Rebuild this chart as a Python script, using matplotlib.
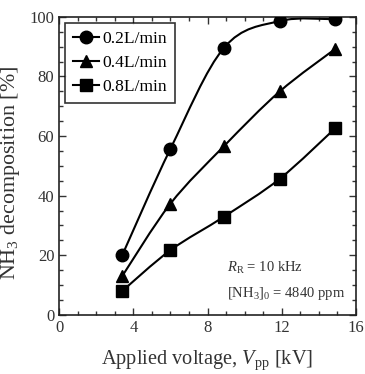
import numpy as np
import matplotlib
matplotlib.use("Agg")
import matplotlib.pyplot as plt
from matplotlib.path import Path
from matplotlib.patches import PathPatch

plt.rcParams['font.family'] = ['Liberation Serif', 'DejaVu Serif']
plt.rcParams['mathtext.fontset'] = 'custom'
plt.rcParams['mathtext.rm'] = 'Liberation Serif'
plt.rcParams['mathtext.it'] = 'Liberation Serif:italic'

voltage = [3.4, 6.0, 8.9, 11.9, 14.9]
flow_02 = [20.0, 55.7, 89.7, 98.6, 99.2]
flow_04 = [13.0, 37.3, 56.7, 75.0, 89.3]
flow_08 = [8.0, 21.7, 33.0, 45.7, 62.7]
labels = ['0.2L/min', '0.4L/min', '0.8L/min']
markers = ['o', '^', 's']

fig = plt.figure(figsize=(3.65, 3.74), dpi=100)
ax = fig.add_axes([0.162, 0.158, 0.813, 0.797])


def smooth_path(ax, x, y, **kw):
    # Catmull-Rom -> cubic Bezier, drawn in data coordinates
    x = np.asarray(x, float); y = np.asarray(y, float)
    pts = np.column_stack([x, y])
    verts = [pts[0]]; codes = [Path.MOVETO]
    n = len(pts)
    for i in range(n - 1):
        p0 = pts[i - 1] if i > 0 else pts[i]
        p1 = pts[i]; p2 = pts[i + 1]
        p3 = pts[i + 2] if i + 2 < n else pts[i + 1]
        c1 = p1 + (p2 - p0) / 6.0
        c2 = p2 - (p3 - p1) / 6.0
        verts += [c1, c2, p2]; codes += [Path.CURVE4] * 3
    ax.add_patch(PathPatch(Path(verts, codes), fill=False, **kw))


for ys, m, lab in zip([flow_02, flow_04, flow_08], markers, labels):
    smooth_path(ax, voltage, ys, lw=1.5, edgecolor='black', zorder=2)
    ms = 9 if m == 'o' else (8 if m == '^' else 8.5)
    ax.plot(voltage, ys, linestyle='none', marker=m, color='black', ms=ms, zorder=3)
    ax.plot([], [], '-', marker=m, color='black', ms=ms, lw=1.5, label=lab)

ax.set_xlim(0, 16)
ax.set_ylim(0, 100)
ax.set_xticks([0, 4, 8, 12, 16])
ax.set_yticks([0, 20, 40, 60, 80, 100])
ax.set_xticks(np.arange(0, 17, 1), minor=True)
ax.set_yticks(np.arange(0, 101, 5), minor=True)
ax.tick_params(which='both', direction='in', top=True, right=True, labelsize=12, colors='#333333', labelcolor='#333333')
ax.tick_params(which='major', length=5, width=1)
ax.tick_params(which='minor', length=3, width=1)
for s in ax.spines.values():
    s.set_linewidth(1.2)
    s.set_color('#222222')

ax.set_xlabel('Applied voltage, $\\mathit{V}_{\\mathrm{pp}}$ [kV]', fontsize=14.7, color='#333333', labelpad=9)
ax.set_ylabel('NH$_3$ decomposition [%]', fontsize=15.8, color='#333333')
ax.yaxis.set_label_coords(-0.125, 0.475)

leg = ax.legend(loc='upper left', fontsize=12.6, frameon=True, fancybox=False,
                edgecolor='black', handlelength=1.5, handletextpad=0.17,
                borderpad=0.45, labelspacing=0.45, borderaxespad=0.35)
leg.get_frame().set_linewidth(1.2)

ax.text(0.565, 0.145, '$\\mathit{R}_{\\mathrm{R}}$ = 10 kHz', transform=ax.transAxes,
        fontsize=10.5, color='#333333')
ax.text(0.565, 0.06, '[NH$_3$]$_0$ = 4840 ppm', transform=ax.transAxes,
        fontsize=10.5, color='#333333')

fig.savefig('out.png', dpi=100)
